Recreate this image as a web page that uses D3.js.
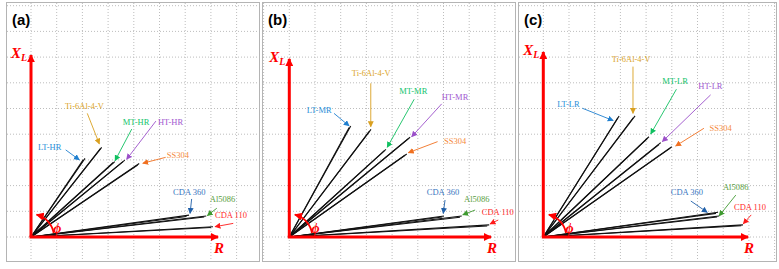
<!DOCTYPE html>
<html>
<head>
<meta charset="utf-8">
<script src="https://cdn.jsdelivr.net/npm/d3@7"></script>
<style>
  body { margin: 0; background: #fff; }
  svg { display: block; }
</style>
</head>
<body>
<div id="chart"></div>
<script>
// panel names and material labels
const panelTags = ["(a)", "(b)", "(c)"];
const panelSuffix = ["HR", "MR", "LR"];
const materials = ["LT", "Ti-6Al-4-V", "MT", "HT", "SS304", "CDA 360", "Al5086", "CDA 110"];
const labelColors = ["#2a8fd8", "#dca52a", "#14c46c", "#a258d0", "#f58a3c", "#3a76c0", "#5a9e40", "#ff2a2a"];
const arrowColors = ["#1f7fcf", "#d9a020", "#10c060", "#9b4fc9", "#f07020", "#1f5fa8", "#3f9a30", "#ff1a1a"];

// phasor end points (R, X) in grid units, two measurements each
const phasorR = [
  [[2.10, 2.03], [2.75, 2.70], [3.26, 3.20], [3.65, 3.58], [4.21, 4.15], [6.15, 6.05], [6.82, 6.74], [7.08, 7.00]],
  [[2.39, 2.33], [3.18, 3.12], [3.76, 3.70], [4.70, 4.62], [4.57, 4.50], [6.02, 5.95], [6.71, 6.64], [7.78, 7.70]],
  [[2.95, 2.90], [3.57, 3.50], [4.11, 4.05], [4.57, 4.50], [5.00, 4.94], [6.80, 6.72], [6.84, 6.76], [7.77, 7.70]]
];
const phasorX = [
  [[3.06, 3.00], [3.49, 3.44], [2.93, 2.90], [2.99, 2.93], [2.86, 2.80], [0.85, 0.80], [0.82, 0.78], [0.40, 0.37]],
  [[4.32, 4.26], [4.19, 4.12], [3.41, 3.36], [3.88, 3.82], [3.23, 3.18], [0.82, 0.78], [0.82, 0.77], [0.47, 0.43]],
  [[4.71, 4.64], [4.71, 4.64], [3.90, 3.84], [3.67, 3.60], [3.51, 3.46], [0.96, 0.92], [0.82, 0.78], [0.47, 0.44]]
];

// annotation text anchors and arrows (grid units)
const labelPos = [
  [[0.27, 3.37], [1.32, 4.98], [3.57, 4.34], [4.94, 4.34], [5.28, 3.07], [5.53, 1.65], [6.96, 1.36], [7.16, 0.74]],
  [[0.68, 4.82], [2.43, 6.28], [4.28, 5.58], [5.93, 5.34], [6.02, 3.63], [5.35, 1.65], [6.80, 1.36], [7.49, 0.86]],
  [[0.54, 5.06], [2.66, 6.81], [4.63, 5.95], [6.03, 5.76], [6.47, 4.14], [4.96, 1.65], [6.99, 1.81], [7.42, 1.07]]
];
const arrowFrom = [
  [[1.35, 3.39], [2.19, 4.81], [3.92, 4.20], [4.86, 4.51], [5.24, 3.10], [6.25, 1.48], [7.23, 1.12], [7.87, 0.53]],
  [[1.74, 4.81], [3.17, 5.98], [4.86, 5.36], [5.93, 5.18], [5.77, 3.71], [6.06, 1.44], [7.23, 1.05], [8.13, 0.66]],
  [[1.52, 5.01], [3.49, 6.63], [5.18, 5.75], [6.51, 5.53], [6.25, 4.23], [5.74, 1.40], [7.49, 1.63], [8.09, 0.86]]
];
const arrowTo = [
  [[1.88, 3.00], [2.66, 3.62], [3.27, 2.97], [3.72, 3.02], [4.35, 2.87], [6.19, 0.92], [6.86, 0.83], [7.16, 0.40]],
  [[2.33, 4.32], [3.17, 4.29], [3.81, 3.49], [4.76, 3.90], [4.63, 3.28], [5.99, 0.92], [6.75, 0.86], [7.81, 0.51]],
  [[2.72, 4.53], [3.49, 4.81], [4.18, 4.01], [4.63, 3.71], [5.15, 3.54], [6.38, 0.96], [6.84, 0.82], [7.78, 0.51]]
];

// axis arrow lengths (grid units)
const axisRLen = [7.28, 7.85, 7.97];
const axisXLen = [7.08, 6.93, 7.20];

// layout
const W = 779, H = 269;
const frames = [{x0: 6, x1: 259}, {x0: 262, x1: 515}, {x0: 518, x1: 776}];
const originX = [31, 289.3, 543.3];
const originY = 237;
const cell = 25.7;

const svg = d3.select("#chart").append("svg")
  .attr("width", W).attr("height", H);

const defs = svg.append("defs");
function marker(id, color, size) {
  defs.append("marker")
    .attr("id", id)
    .attr("viewBox", "0 0 10 10")
    .attr("refX", 9).attr("refY", 5)
    .attr("markerUnits", "userSpaceOnUse")
    .attr("markerWidth", size).attr("markerHeight", size)
    .attr("orient", "auto")
    .append("path").attr("d", "M0,0L10,5L0,10z").attr("fill", color);
}
marker("axisHead", "#ff0000", 8);
marker("phiHead", "#ff0000", 8);
arrowColors.forEach((c, i) => marker("ann" + i, c, 6));

panelTags.forEach((tag, p) => {
  const fr = frames[p];
  const x = d3.scaleLinear().domain([0, 1]).range([originX[p], originX[p] + cell]);
  const y = d3.scaleLinear().domain([0, 1]).range([originY, originY - cell]);
  const g = svg.append("g");

  // frame
  g.append("rect")
    .attr("x", fr.x0 + 0.5).attr("y", 2.5)
    .attr("width", fr.x1 - fr.x0).attr("height", 259)
    .attr("fill", "#fff").attr("stroke", "#b4b4b4").attr("stroke-width", 1);

  // dotted grid
  const vx = d3.range(-2, 12).map(x).filter(v => v > fr.x0 + 1 && v < fr.x1 - 1);
  const hy = d3.range(-1, 10).map(y).filter(v => v > 4 && v < 260);
  g.selectAll(".gv").data(vx).join("line")
    .attr("x1", d => d).attr("x2", d => d).attr("y1", 3).attr("y2", 261)
    .attr("stroke", "#bdbdbd").attr("stroke-dasharray", "1,2");
  g.selectAll(".gh").data(hy).join("line")
    .attr("x1", fr.x0 + 1).attr("x2", fr.x1).attr("y1", d => d).attr("y2", d => d)
    .attr("stroke", "#bdbdbd").attr("stroke-dasharray", "1,2");

  // panel tag
  g.append("text")
    .attr("x", fr.x0 + 6).attr("y", 25)
    .attr("font-family", "Liberation Sans, Arial, sans-serif")
    .attr("font-weight", "bold").attr("font-size", 15)
    .text(tag);

  // phasor lines
  materials.forEach((m, i) => {
    phasorR[p][i].forEach((r, k) => {
      g.append("line")
        .attr("x1", x(0)).attr("y1", y(0))
        .attr("x2", x(r)).attr("y2", y(phasorX[p][i][k]))
        .attr("stroke", "#111").attr("stroke-width", 1.1);
    });
  });

  // axes
  g.append("line")
    .attr("x1", x(0)).attr("y1", y(0)).attr("x2", x(0)).attr("y2", y(axisXLen[p]))
    .attr("stroke", "#ff0000").attr("stroke-width", 3).attr("marker-end", "url(#axisHead)");
  g.append("line")
    .attr("x1", x(0) - 1.5).attr("y1", y(0)).attr("x2", x(axisRLen[p])).attr("y2", y(0))
    .attr("stroke", "#ff0000").attr("stroke-width", 3).attr("marker-end", "url(#axisHead)");

  const axisFont = "Liberation Serif, Times New Roman, serif";
  const xl = g.append("text")
    .attr("x", x(0) - 4).attr("y", y(axisXLen[p]) + 3)
    .attr("text-anchor", "end")
    .attr("font-family", axisFont).attr("font-style", "italic").attr("font-weight", "bold")
    .attr("font-size", 15).attr("fill", "#ff0000");
  xl.append("tspan").text("X");
  xl.append("tspan").attr("font-size", 10).attr("dy", 3).text("L");

  g.append("text")
    .attr("x", x(axisRLen[p]) + 1).attr("y", 253)
    .attr("text-anchor", "middle")
    .attr("font-family", axisFont).attr("font-style", "italic").attr("font-weight", "bold")
    .attr("font-size", 15).attr("fill", "#ff0000")
    .text("R");

  // phi arc
  const rad = 23;
  const arcPts = d3.range(10, 77, 2).map(a => [
    x(0) + rad * Math.cos(a * Math.PI / 180),
    y(0) - rad * Math.sin(a * Math.PI / 180)
  ]);
  g.append("path")
    .attr("d", d3.line()(arcPts))
    .attr("fill", "none").attr("stroke", "#ff0000").attr("stroke-width", 1.8)
    .attr("marker-end", "url(#phiHead)");
  g.append("text")
    .attr("x", x(1.02)).attr("y", y(0.15))
    .attr("text-anchor", "middle")
    .attr("font-family", axisFont).attr("font-style", "italic").attr("font-weight", "bold")
    .attr("font-size", 14).attr("fill", "#ff0000")
    .text("\u03D5");

  // annotations
  materials.forEach((m, i) => {
    const name = i === 0 || i === 2 || i === 3 ? m + "-" + panelSuffix[p] : m;
    g.append("line")
      .attr("x1", x(arrowFrom[p][i][0])).attr("y1", y(arrowFrom[p][i][1]))
      .attr("x2", x(arrowTo[p][i][0])).attr("y2", y(arrowTo[p][i][1]))
      .attr("stroke", arrowColors[i]).attr("stroke-width", 0.9)
      .attr("marker-end", "url(#ann" + i + ")");
    g.append("text")
      .attr("x", x(labelPos[p][i][0])).attr("y", y(labelPos[p][i][1]))
      .attr("font-family", axisFont).attr("font-size", 8.5)
      .attr("fill", labelColors[i])
      .text(name);
  });
});
</script>
</body>
</html>
